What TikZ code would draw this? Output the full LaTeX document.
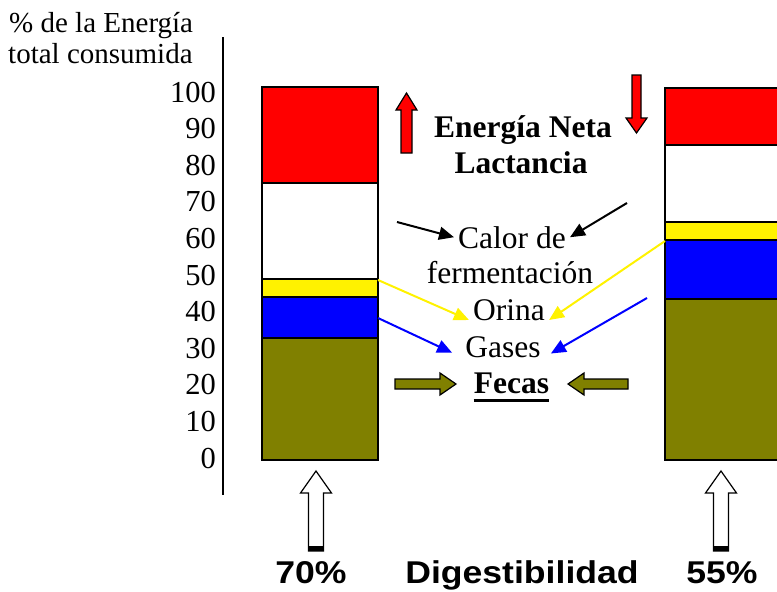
\documentclass[tikz,border=0pt]{standalone}
\usepackage{fontspec}
\setmainfont{Liberation Serif}
\newfontfamily\heavyfont{Liberation Sans}
\usetikzlibrary{arrows.meta}

\definecolor{olivo}{RGB}{128,128,0}

\tikzset{
  eje/.style={inner sep=0pt, anchor=base east, font=\fontsize{30.5}{36}\selectfont},
  titulo/.style={inner sep=0pt, anchor=base west, font=\fontsize{29}{34}\selectfont},
  etiq/.style={inner ysep=0pt, inner xsep=4pt, anchor=base, font=\fontsize{31.5}{36}\selectfont},
  negrita/.style={etiq, font=\bfseries\fontsize{31.5}{36}\selectfont},
  grande/.style={inner sep=0pt, anchor=base, font=\heavyfont\bfseries\fontsize{31.5}{38}\selectfont},
  flecha/.style={line width=2pt, -{Triangle[length=15pt,width=13pt]}},
  seg/.style={draw, line width=1.6pt},
  bloque/.style={draw, line width=1.2pt},
}
\newcommand{\ancho}[1]{\scalebox{1.13}[1]{#1}}

\begin{document}
\begin{tikzpicture}[x=1pt,y=-1pt]
\useasboundingbox (0,0) rectangle (777,592);

% eje vertical
\node[titulo] (tit1) at (9,32) {\% de la Energía};
\node[titulo] (tit2) at (8,63) {total consumida};
\draw[line width=1.6pt] (223,37) -- (223,495);
\foreach \v in {0,10,...,100}
  \node[eje] (t\v) at (216,468-3.66*\v) {\v};

% barra 70%
\filldraw[seg, fill=olivo] (262,338) rectangle (378,460);
\filldraw[seg, fill=blue] (262,297) rectangle (378,338);
\filldraw[seg, fill=yellow] (262,279) rectangle (378,297);
\filldraw[seg, fill=white] (262,183) rectangle (378,279);
\filldraw[seg, fill=red] (262,87) rectangle (378,183);
\coordinate (lyel) at (378,280);
\coordinate (lblu) at (378,318);

% barra 55%
\filldraw[seg, fill=olivo] (665,299) rectangle (790,460);
\filldraw[seg, fill=blue] (665,240) rectangle (790,299);
\filldraw[seg, fill=yellow] (665,222) rectangle (790,240);
\filldraw[seg, fill=white] (665,145) rectangle (790,222);
\filldraw[seg, fill=red] (665,88) rectangle (790,145);
\coordinate (ryel) at (665,241);
\coordinate (rblu) at (647,298);

% textos centrales
\node[negrita] (neta) at (523,137) {Energía Neta};
\node[negrita] (lact) at (521,173) {Lactancia};
\node[etiq] (calor) at (512,248) {Calor de};
\node[etiq] (ferm) at (510,283) {fermentación};
\node[etiq] (orina) at (509,320) {Orina};
\node[etiq] (gases) at (503,357) {Gases};
\node[negrita] (fecas) at (511.5,393) {Fecas};
\draw[line width=3pt] ([yshift=-7pt,xshift=4pt]fecas.base west) -- ([yshift=-7pt,xshift=-4pt]fecas.base east);

% flechas rojas
\filldraw[bloque, fill=red] (401,153) -- (401,110) -- (396,110) -- (406.5,93) -- (417,110) -- (412,110) -- (412,153) -- cycle;
\filldraw[bloque, fill=red] (632,75) -- (632,118) -- (626,118) -- (636.5,133) -- (647,118) -- (641,118) -- (641,75) -- cycle;

% flechas hacia los textos
\coordinate (cizq) at (397,222);
\coordinate (cder) at (627,203);
\draw[flecha] (cizq) -- (calor.west);
\draw[flecha] (cder) -- (calor.east);
\draw[flecha, yellow] (lyel) -- (orina.base west);
\draw[flecha, yellow] (ryel) -- (orina.base east);
\draw[flecha, blue, shorten >=10pt] (lblu) -- (gases.base west);
\draw[flecha, blue, shorten >=7pt] (rblu) -- (gases.base east);

% flechas de heces
\filldraw[bloque, fill=olivo] (395,379) -- (440,379) -- (440,373) -- (456,384) -- (440,395) -- (440,389) -- (395,389) -- cycle;
\filldraw[bloque, fill=olivo] (628,379) -- (584,379) -- (584,373) -- (568,384) -- (584,395) -- (584,389) -- (628,389) -- cycle;

% flechas blancas de digestibilidad
\foreach \cx in {316,721} {
  \filldraw[bloque, fill=white] (\cx-7.5,551) -- (\cx-7.5,493) -- (\cx-15.5,493) -- (\cx,471)
    -- (\cx+15.5,493) -- (\cx+7.5,493) -- (\cx+7.5,551) -- cycle;
  \fill (\cx-7.5,546) rectangle (\cx+7.5,551);
}

% textos inferiores
\node[grande] (d70) at (311,583) {\ancho{70\%}};
\node[grande] (dig) at (522,583) {\ancho{Digestibilidad}};
\node[grande] (d55) at (722,583) {\ancho{55\%}};
\end{tikzpicture}
\end{document}
